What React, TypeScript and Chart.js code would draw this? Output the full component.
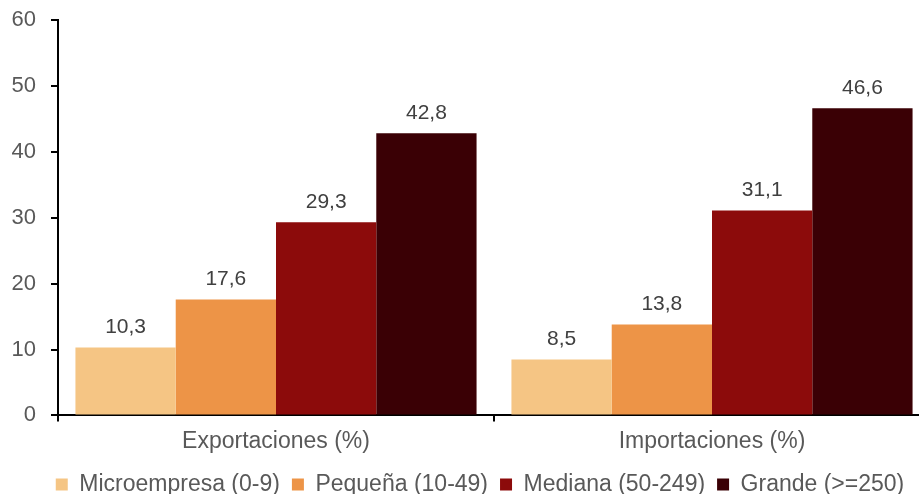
import React, { useEffect, useRef } from "react";
import { Chart, registerables } from "chart.js";

Chart.register(...registerables);

const categories = ["Exportaciones (%)", "Importaciones (%)"];
const seriesNames = ["Microempresa (0-9)", "Pequeña (10-49)", "Mediana (50-249)", "Grande (>=250)"];
const microempresa = [10.3, 8.5];
const pequena = [17.6, 13.8];
const mediana = [29.3, 31.1];
const grande = [42.8, 46.6];
const seriesColors = ["#F5C584", "#ED9447", "#8C0B0B", "#3A0005"];
const yMin = 0;
const yMax = 60;
const yStep = 10;

const FONT = "'Liberation Sans', Arial, sans-serif";

const valueLabels = {
  id: "valueLabels",
  afterDatasetsDraw(chart: any) {
    const ctx = chart.ctx;
    ctx.save();
    ctx.font = `21px ${FONT}`;
    ctx.fillStyle = "#404040";
    ctx.textAlign = "center";
    ctx.textBaseline = "bottom";
    chart.data.datasets.forEach((ds: any, i: number) => {
      const meta = chart.getDatasetMeta(i);
      meta.data.forEach((bar: any, j: number) => {
        const v = ds.data[j];
        const txt = v.toFixed(1).replace(".", ",");
        ctx.fillText(txt, bar.x, bar.y - 10);
      });
    });
    ctx.restore();
  },
};

// let the y-axis tick labels draw into the left layout padding
const widenYLabelArea = {
  id: "widenYLabelArea",
  afterLayout(chart: any) {
    const s = chart.scales.y;
    if (s) s.left = 0;
  },
};

export default function App() {
  const ref = useRef<HTMLCanvasElement>(null);
  useEffect(() => {
    if (!ref.current) return;
    const seriesData = [microempresa, pequena, mediana, grande];
    const chart = new Chart(ref.current, {
      type: "bar",
      data: {
        labels: categories,
        datasets: seriesNames.map((name, i) => ({
          label: name,
          data: seriesData[i],
          backgroundColor: seriesColors[i],
          borderWidth: 0,
          categoryPercentage: 0.92,
          barPercentage: 1,
        })),
      },
      options: {
        responsive: false,
        animation: false,
        devicePixelRatio: 1,
        layout: { padding: { top: 20, right: 30, left: 30, bottom: -12 } },
        plugins: {
          legend: {
            position: "bottom",
            labels: {
              boxWidth: 12,
              boxHeight: 12,
              color: "#595959",
              font: { family: FONT, size: 23 },
              padding: 12,
            },
          },
          tooltip: { enabled: false },
        },
        scales: {
          x: {
            grid: {
              display: true,
              drawOnChartArea: false,
              drawTicks: true,
              tickLength: 6,
              color: "#000000",
              lineWidth: 2,
              offset: true,
            },
            border: { display: true, color: "#000000", width: 2 },
            ticks: {
              color: "#595959",
              font: { family: FONT, size: 23 },
              padding: 6,
            },
          },
          y: {
            min: yMin,
            max: yMax,
            afterFit: (scale: any) => {
              scale.width = 28;
              scale.paddingTop = 0;
              scale.paddingBottom = 0;
            },
            grid: {
              display: true,
              drawOnChartArea: false,
              drawTicks: true,
              tickLength: 7,
              color: "#000000",
              lineWidth: 2,
            },
            border: { display: true, color: "#000000", width: 2 },
            ticks: {
              stepSize: yStep,
              color: "#595959",
              font: { family: FONT, size: 22 },
              padding: 15,
            },
          },
        },
      },
      plugins: [valueLabels, widenYLabelArea],
    });
    return () => chart.destroy();
  }, []);
  return (
    <div
      style={{
        position: "fixed",
        left: 0,
        top: 0,
        width: 919,
        height: 494,
        overflow: "hidden",
        background: "#ffffff",
      }}
    >
      <canvas ref={ref} width={960} height={494} />
    </div>
  );
}
